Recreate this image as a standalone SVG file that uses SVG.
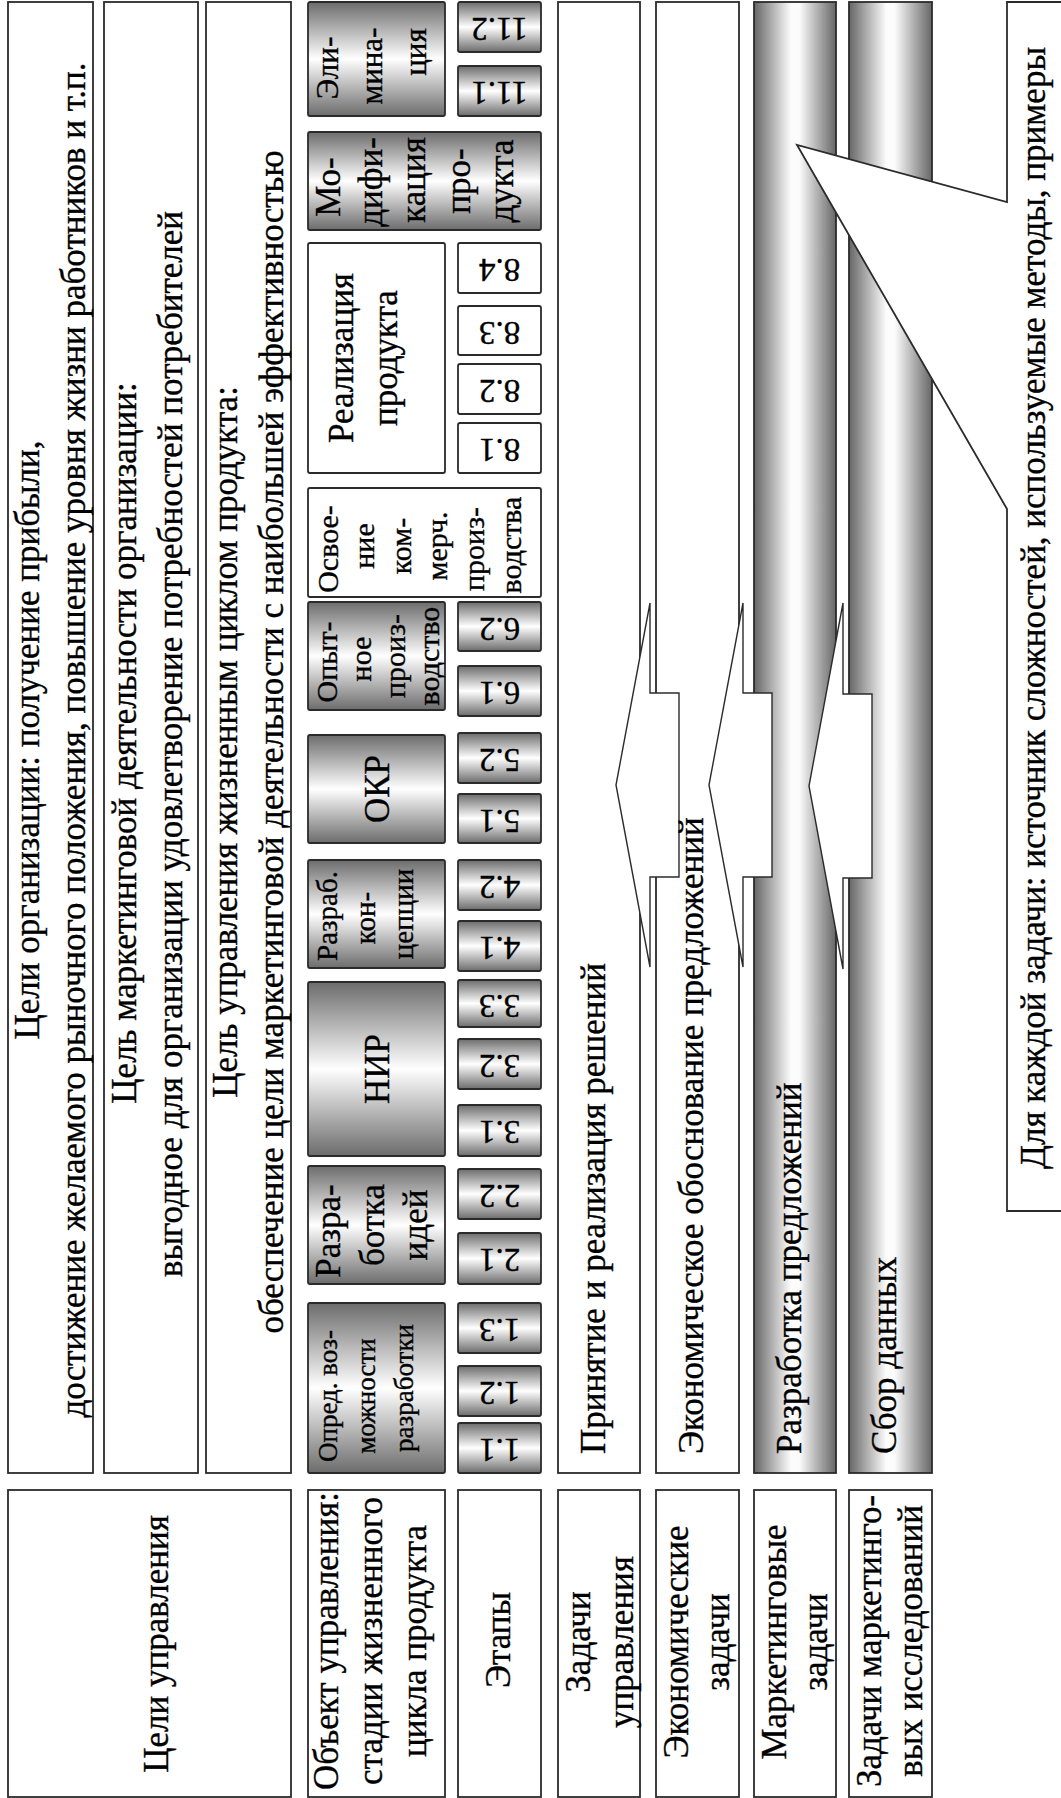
<svg xmlns="http://www.w3.org/2000/svg" width="1061" height="1798" viewBox="0 0 1061 1798" font-family="'Liberation Serif', 'Times New Roman', serif">
<defs>
<linearGradient id="gy" x1="0" y1="0" x2="0" y2="1">
<stop offset="0" stop-color="#6c6c6c"/>
<stop offset="0.5" stop-color="#ffffff"/>
<stop offset="1" stop-color="#6c6c6c"/>
</linearGradient>
<linearGradient id="gx" x1="0" y1="0" x2="1" y2="0">
<stop offset="0" stop-color="#666"/>
<stop offset="0.45" stop-color="#fcfcfc"/>
<stop offset="0.55" stop-color="#fcfcfc"/>
<stop offset="1" stop-color="#666"/>
</linearGradient>
<style>
.w{fill:#fff;stroke:#2b2b2b;stroke-width:1.8}
.g{fill:url(#gy);stroke:#2b2b2b;stroke-width:1.8}
.c{fill:url(#gx);stroke:#2b2b2b;stroke-width:1.8}
text{fill:#000;stroke:#000;stroke-width:0.35;font-size:35px}
.m{text-anchor:middle}
.f27{font-size:27px}
.f29{font-size:29px}
.f30{font-size:30px}
.f31{font-size:31px}
.n{font-size:33px;text-anchor:middle}
.ar{fill:#fff;stroke:#2b2b2b;stroke-width:1.4}
</style>
</defs>
<rect width="1061" height="1798" fill="#fff"/>

<g id="lbl-goals"><rect class="w" x="8" y="1490" width="283" height="307"/><text class="m" transform="translate(168,1644) rotate(-90)">Цели управления</text></g>
<g id="lbl-object"><rect class="w" x="308" y="1490" width="137" height="307"/>
<text class="m" transform="translate(338,1641) rotate(-90)">Объект управления:</text>
<text class="m" transform="translate(382,1641) rotate(-90)">стадии жизненного</text>
<text class="m" transform="translate(426,1641) rotate(-90)">цикла продукта</text></g>
<g id="lbl-stages"><rect class="w" x="458" y="1490" width="83" height="307"/><text class="m" transform="translate(510,1640) rotate(-90)">Этапы</text></g>
<g id="lbl-mgmt"><rect class="w" x="558" y="1490" width="82" height="307"/>
<text class="m" transform="translate(590,1642) rotate(-90)">Задачи</text>
<text class="m" transform="translate(633,1642) rotate(-90)">управления</text></g>
<g id="lbl-econ"><rect class="w" x="656" y="1490" width="83" height="307"/>
<text class="m" transform="translate(688,1642) rotate(-90)">Экономические</text>
<text class="m" transform="translate(729,1642) rotate(-90)">задачи</text></g>
<g id="lbl-mkt"><rect class="w" x="754" y="1490" width="82" height="307"/>
<text class="m" transform="translate(786,1642) rotate(-90)">Маркетинговые</text>
<text class="m" transform="translate(827,1642) rotate(-90)">задачи</text></g>
<g id="lbl-research"><rect class="w" x="849" y="1490" width="83" height="307"/>
<text class="m" transform="translate(881,1641) rotate(-90)">Задачи маркетинго-</text>
<text class="m" transform="translate(922,1641) rotate(-90)">вых исследований</text></g>

<g id="goal-org"><rect class="w" x="8" y="2" width="85" height="1471"/>
<text class="m" transform="translate(39,740) rotate(-90)">Цели организации: получение прибыли,</text>
<text class="m" transform="translate(85,740) rotate(-90)">достижение желаемого рыночного положения, повышение уровня жизни работников и т.п.</text></g>
<g id="goal-mkt"><rect class="w" x="104" y="2" width="94" height="1471"/>
<text class="m" transform="translate(136,743) rotate(-90)">Цель маркетинговой деятельности организации:</text>
<text class="m" transform="translate(182,744) rotate(-90)">выгодное для организации удовлетворение потребностей потребителей</text></g>
<g id="goal-lc"><rect class="w" x="206" y="2" width="85" height="1471"/>
<text class="m" transform="translate(237,742) rotate(-90)">Цель управления жизненным циклом продукта:</text>
<text class="m" transform="translate(283,742) rotate(-90)">обеспечение цели маркетинговой деятельности с наибольшей эффективностью</text></g>

<g id="stage-elim"><rect class="g" x="308" y="2" width="137" height="114" rx="2"/>
<text class="m f31" transform="translate(338,68) rotate(-90)">Эли-</text>
<text class="m f31" transform="translate(382,66) rotate(-90)">мина-</text>
<text class="m f31" transform="translate(426,52) rotate(-90)">ция</text></g>
<g id="stage-mod"><rect class="g" x="308" y="132" width="233" height="98" rx="2"/>
<text class="m" transform="translate(340,187) rotate(-90)">Мо-</text>
<text class="m" transform="translate(382,182) rotate(-90)">дифи-</text>
<text class="m" transform="translate(425,180) rotate(-90)">кация</text>
<text class="m" transform="translate(470,181) rotate(-90)">про-</text>
<text class="m" transform="translate(513,181) rotate(-90)">дукта</text></g>
<g id="stage-real"><rect class="w" x="308" y="243" width="137" height="230" rx="2"/>
<text class="m" transform="translate(353,358) rotate(-90)">Реализация</text>
<text class="m" transform="translate(397,358) rotate(-90)">продукта</text></g>
<g id="stage-comm"><rect class="w" x="308" y="488" width="233" height="109" rx="2"/>
<text class="m f30" transform="translate(338,549) rotate(-90)">Освое-</text>
<text class="m f30" transform="translate(374,546) rotate(-90)">ние</text>
<text class="m f30" transform="translate(411,546) rotate(-90)">ком-</text>
<text class="m f30" transform="translate(447,546) rotate(-90)">мерч.</text>
<text class="m f30" transform="translate(484,549) rotate(-90)">произ-</text>
<text class="m f30" transform="translate(521,545) rotate(-90)">водства</text></g>
<g id="stage-pilot"><rect class="g" x="308" y="602" width="137" height="108" rx="2"/>
<text class="m f30" transform="translate(337,662) rotate(-90)">Опыт-</text>
<text class="m f30" transform="translate(371,659) rotate(-90)">ное</text>
<text class="m f30" transform="translate(405,656) rotate(-90)">произ-</text>
<text class="m f30" transform="translate(439,656) rotate(-90)">водство</text></g>
<g id="stage-okr"><rect class="g" x="308" y="735" width="137" height="108" rx="2"/>
<text class="m" transform="translate(389,789) rotate(-90)">ОКР</text></g>
<g id="stage-concept"><rect class="g" x="308" y="860" width="137" height="108" rx="2"/>
<text class="m f29" transform="translate(337,916) rotate(-90)">Разраб.</text>
<text class="m f29" transform="translate(375,918) rotate(-90)">кон-</text>
<text class="m f29" transform="translate(413,914) rotate(-90)">цепции</text></g>
<g id="stage-nir"><rect class="g" x="308" y="982" width="137" height="174" rx="2"/>
<text class="m" transform="translate(389,1069) rotate(-90)">НИР</text></g>
<g id="stage-ideas"><rect class="g" x="308" y="1166" width="137" height="118" rx="2"/>
<text class="m" transform="translate(340,1231) rotate(-90)">Разра-</text>
<text class="m" transform="translate(384,1225) rotate(-90)">ботка</text>
<text class="m" transform="translate(427,1225) rotate(-90)">идей</text></g>
<g id="stage-opp"><rect class="g" x="308" y="1303" width="137" height="170" rx="2"/>
<text class="m f27" transform="translate(337,1396) rotate(-90)">Опред. воз-</text>
<text class="m f27" transform="translate(375,1396) rotate(-90)">можности</text>
<text class="m f27" transform="translate(413,1388) rotate(-90)">разработки</text></g>

<g id="step-11-2"><rect class="g" x="458" y="2" width="83" height="50" rx="2"/><text class="n" transform="translate(499.5,18) rotate(180)">11.2</text></g>
<g id="step-11-1"><rect class="g" x="458" y="66" width="83" height="50" rx="2"/><text class="n" transform="translate(499.5,82) rotate(180)">11.1</text></g>
<g id="step-8-4"><rect class="w" x="458" y="243" width="83" height="50" rx="2"/><text class="n" transform="translate(499.5,259) rotate(180)">8.4</text></g>
<g id="step-8-3"><rect class="w" x="458" y="306" width="83" height="49" rx="2"/><text class="n" transform="translate(499.5,322) rotate(180)">8.3</text></g>
<g id="step-8-2"><rect class="w" x="458" y="364" width="83" height="50" rx="2"/><text class="n" transform="translate(499.5,380) rotate(180)">8.2</text></g>
<g id="step-8-1"><rect class="w" x="458" y="423" width="83" height="50" rx="2"/><text class="n" transform="translate(499.5,439) rotate(180)">8.1</text></g>
<g id="step-6-2"><rect class="g" x="458" y="602" width="83" height="49" rx="2"/><text class="n" transform="translate(499.5,618) rotate(180)">6.2</text></g>
<g id="step-6-1"><rect class="g" x="458" y="666" width="83" height="50" rx="2"/><text class="n" transform="translate(499.5,682) rotate(180)">6.1</text></g>
<g id="step-5-2"><rect class="g" x="458" y="733" width="83" height="50" rx="2"/><text class="n" transform="translate(499.5,749) rotate(180)">5.2</text></g>
<g id="step-5-1"><rect class="g" x="458" y="794" width="83" height="49" rx="2"/><text class="n" transform="translate(499.5,810) rotate(180)">5.1</text></g>
<g id="step-4-2"><rect class="g" x="458" y="860" width="83" height="50" rx="2"/><text class="n" transform="translate(499.5,876) rotate(180)">4.2</text></g>
<g id="step-4-1"><rect class="g" x="458" y="921" width="83" height="50" rx="2"/><text class="n" transform="translate(499.5,937) rotate(180)">4.1</text></g>
<g id="step-3-3"><rect class="g" x="458" y="980" width="83" height="47" rx="2"/><text class="n" transform="translate(499.5,995) rotate(180)">3.3</text></g>
<g id="step-3-2"><rect class="g" x="458" y="1039" width="83" height="50" rx="2"/><text class="n" transform="translate(499.5,1055) rotate(180)">3.2</text></g>
<g id="step-3-1"><rect class="g" x="458" y="1105" width="83" height="51" rx="2"/><text class="n" transform="translate(499.5,1121) rotate(180)">3.1</text></g>
<g id="step-2-2"><rect class="g" x="458" y="1169" width="83" height="50" rx="2"/><text class="n" transform="translate(499.5,1185) rotate(180)">2.2</text></g>
<g id="step-2-1"><rect class="g" x="458" y="1233" width="83" height="51" rx="2"/><text class="n" transform="translate(499.5,1249) rotate(180)">2.1</text></g>
<g id="step-1-3"><rect class="g" x="458" y="1303" width="83" height="50" rx="2"/><text class="n" transform="translate(499.5,1319) rotate(180)">1.3</text></g>
<g id="step-1-2"><rect class="g" x="458" y="1366" width="83" height="50" rx="2"/><text class="n" transform="translate(499.5,1382) rotate(180)">1.2</text></g>
<g id="step-1-1"><rect class="g" x="458" y="1423" width="83" height="50" rx="2"/><text class="n" transform="translate(499.5,1439) rotate(180)">1.1</text></g>

<g id="task-mgmt"><rect class="w" x="558" y="2" width="82" height="1471"/></g>
<g id="task-econ"><rect class="w" x="656" y="2" width="83" height="1471"/></g>
<g id="task-mkt"><rect class="c" x="754" y="2" width="82" height="1471"/></g>
<g id="task-research"><rect class="c" x="849" y="2" width="83" height="1471"/></g>

<g id="connectors">
<path class="ar" d="M616,785 L650,603 L650,693 L679,693 L679,877 L650,877 L650,967 Z"/>
<path class="ar" d="M709,785 L743,603 L743,693 L772,693 L772,877 L743,877 L743,967 Z"/>
<path class="ar" d="M809,786 L843,603 L843,694 L872,694 L872,878 L843,878 L843,969 Z"/>
</g>

<g id="task-texts">
<text transform="translate(605,1454) rotate(-90)">Принятие и реализация решений</text>
<text transform="translate(703,1454) rotate(-90)">Экономическое обоснование предложений</text>
<text transform="translate(801,1454) rotate(-90)">Разработка предложений</text>
<text transform="translate(896,1454) rotate(-90)">Сбор данных</text>
</g>

<g id="callout"><path class="w" d="M1007,2 H1075 V1211 H1007 V509 L797,145 L1007,202 Z"/>
<text class="m" transform="translate(1045,608) rotate(-90)">Для каждой задачи: источник сложностей, используемые методы, примеры</text></g>
</svg>
